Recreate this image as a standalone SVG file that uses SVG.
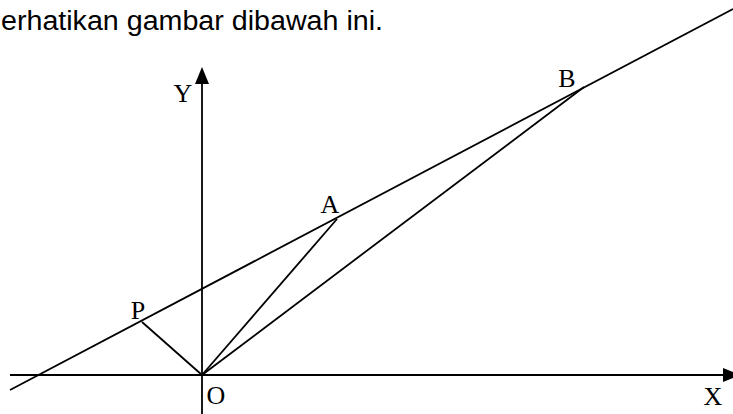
<svg xmlns="http://www.w3.org/2000/svg" width="733" height="414" viewBox="0 0 733 414">
  <style>
    .ln { stroke: #000; stroke-width: 1.8; fill: none; }
    .lbl { font-family: "Liberation Serif", "Times New Roman", serif; font-size: 26px; fill: #000; text-anchor: middle; }
    .title { font-family: "Liberation Sans", Arial, sans-serif; font-size: 27px; fill: #000; }
  </style>
  <rect width="733" height="414" fill="#fff"/>
  <text class="title" x="1" y="30" textLength="382" lengthAdjust="spacingAndGlyphs">erhatikan gambar dibawah ini.</text>
  <g id="axes">
    <line class="ln" x1="202" y1="80" x2="202" y2="414"/>
    <polygon points="202,67 195,84 209,84" fill="#000"/>
    <line class="ln" x1="10" y1="375" x2="726" y2="375"/>
    <polygon points="740,375 723,368 723,382" fill="#000"/>
  </g>
  <g id="connectors">
    <line class="ln" x1="10" y1="390" x2="733" y2="9"/>
    <line class="ln" x1="142" y1="322" x2="202" y2="375"/>
    <line class="ln" x1="202" y1="375" x2="337" y2="219"/>
    <line class="ln" x1="202" y1="375" x2="584" y2="87"/>
  </g>
  <g id="node-Y"><text class="lbl" x="183" y="102">Y</text></g>
  <g id="node-X"><text class="lbl" x="713" y="405">X</text></g>
  <g id="node-O"><text class="lbl" x="216" y="404">O</text></g>
  <g id="node-P"><text class="lbl" x="138" y="319">P</text></g>
  <g id="node-A"><text class="lbl" x="330" y="213">A</text></g>
  <g id="node-B"><text class="lbl" x="567" y="87">B</text></g>
</svg>
